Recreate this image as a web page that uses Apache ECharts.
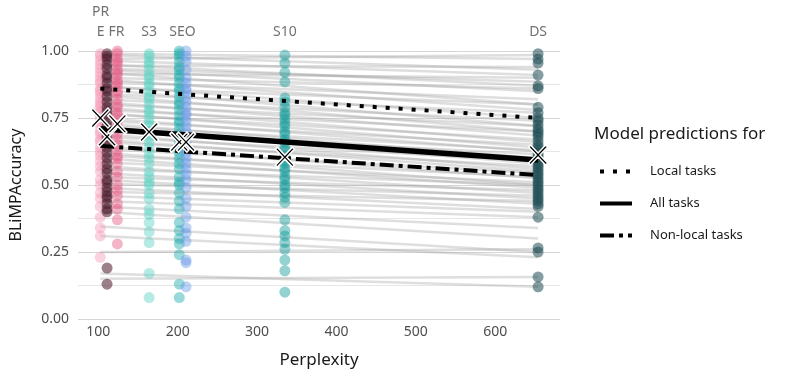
<!DOCTYPE html>
<html>
<head>
<meta charset="utf-8">
<script src="https://cdn.jsdelivr.net/npm/echarts@6/dist/echarts.min.js"></script>
<style>
  html, body { margin: 0; padding: 0; background: #fff; }
  #chart { width: 793px; height: 375px; }
</style>
</head>
<body>
<div id="chart"></div>
<script>
var fontName = 'Noto Sans';

// perplexity of each model (x position of the point columns)
var colX = [102.5, 111, 124, 164, 202, 210.5, 335, 654];
var colColors = ['#f49ab5', '#4a1a2c', '#e75c86', '#5cd2c3', '#1fabab', '#6a9ce8', '#109c99', '#1f4c53'];

// BLiMP accuracy per task, one list per model column
var prePink = [0.99, 0.98, 0.965, 0.95, 0.935, 0.92, 0.905, 0.89, 0.88, 0.86, 0.85, 0.84, 0.825, 0.81, 0.80, 0.79, 0.775, 0.77, 0.755, 0.74, 0.73, 0.72, 0.70, 0.69, 0.67, 0.66, 0.64, 0.625, 0.61, 0.59, 0.57, 0.55, 0.52, 0.50, 0.47, 0.45, 0.42, 0.38, 0.34, 0.31, 0.23];
var preDark = [0.99, 0.98, 0.97, 0.95, 0.935, 0.91, 0.90, 0.88, 0.86, 0.85, 0.83, 0.81, 0.79, 0.775, 0.76, 0.74, 0.72, 0.70, 0.68, 0.665, 0.64, 0.62, 0.60, 0.58, 0.56, 0.545, 0.52, 0.51, 0.49, 0.475, 0.46, 0.45, 0.43, 0.41, 0.40, 0.19, 0.13];
var frPink = [1.0, 0.99, 0.97, 0.96, 0.95, 0.93, 0.92, 0.91, 0.89, 0.88, 0.87, 0.85, 0.84, 0.82, 0.80, 0.79, 0.77, 0.76, 0.74, 0.72, 0.71, 0.69, 0.67, 0.65, 0.63, 0.61, 0.60, 0.58, 0.55, 0.53, 0.50, 0.48, 0.46, 0.43, 0.41, 0.37, 0.28];
var s3 = [0.99, 0.98, 0.96, 0.95, 0.93, 0.91, 0.90, 0.88, 0.87, 0.85, 0.83, 0.82, 0.80, 0.78, 0.77, 0.75, 0.73, 0.72, 0.70, 0.68, 0.66, 0.64, 0.62, 0.60, 0.58, 0.55, 0.53, 0.51, 0.50, 0.47, 0.45, 0.41, 0.39, 0.36, 0.325, 0.285, 0.17, 0.08];
var seoTeal = [1.0, 0.99, 0.98, 0.96, 0.94, 0.93, 0.91, 0.90, 0.88, 0.86, 0.85, 0.83, 0.81, 0.80, 0.78, 0.76, 0.74, 0.73, 0.71, 0.69, 0.68, 0.66, 0.64, 0.62, 0.60, 0.58, 0.56, 0.53, 0.51, 0.50, 0.47, 0.44, 0.41, 0.36, 0.33, 0.30, 0.28, 0.24, 0.13, 0.08];
var seoBlue = [1.0, 0.98, 0.96, 0.93, 0.90, 0.88, 0.86, 0.85, 0.83, 0.81, 0.79, 0.77, 0.76, 0.74, 0.72, 0.70, 0.68, 0.66, 0.64, 0.62, 0.60, 0.58, 0.56, 0.54, 0.52, 0.49, 0.45, 0.42, 0.38, 0.34, 0.32, 0.29, 0.22, 0.21, 0.12];
var s10 = [0.985, 0.955, 0.92, 0.885, 0.825, 0.81, 0.79, 0.77, 0.76, 0.745, 0.73, 0.72, 0.70, 0.69, 0.67, 0.66, 0.64, 0.63, 0.61, 0.60, 0.59, 0.58, 0.56, 0.55, 0.53, 0.52, 0.50, 0.49, 0.47, 0.455, 0.435, 0.37, 0.33, 0.31, 0.285, 0.26, 0.22, 0.18, 0.10];
var ds = [0.99, 0.97, 0.955, 0.91, 0.87, 0.86, 0.79, 0.77, 0.75, 0.74, 0.725, 0.71, 0.70, 0.69, 0.68, 0.665, 0.65, 0.64, 0.63, 0.62, 0.61, 0.60, 0.59, 0.58, 0.57, 0.56, 0.55, 0.54, 0.53, 0.52, 0.51, 0.50, 0.49, 0.48, 0.47, 0.46, 0.45, 0.44, 0.43, 0.42, 0.38, 0.265, 0.25, 0.157, 0.12];
var columns = [prePink, preDark, frPink, s3, seoTeal, seoBlue, s10, ds];

// mean accuracy per model (X markers)
var meanAcc = [0.75, 0.68, 0.728, 0.698, 0.66, 0.66, 0.604, 0.612];

// model names written above the columns
var modelNames = ['PR\nE', 'FR', 'S3', 'SEO', 'S10', 'DS'];
var modelNameX = [103, 123, 164, 206, 335, 654];

// per task fitted lines: accuracy at lowest and highest perplexity
var lineStart = [0.99, 0.985, 0.97, 0.965, 0.95, 0.945, 0.935, 0.93, 0.92, 0.915, 0.90, 0.895, 0.885, 0.87, 0.865, 0.855, 0.84, 0.835, 0.82, 0.81, 0.80, 0.79, 0.78, 0.77, 0.765, 0.75, 0.74, 0.73, 0.72, 0.71, 0.70, 0.69, 0.68, 0.67, 0.66, 0.645, 0.635, 0.62, 0.61, 0.60, 0.585, 0.57, 0.56, 0.545, 0.53, 0.52, 0.505, 0.49, 0.475, 0.46, 0.44, 0.42, 0.40, 0.345, 0.31, 0.25, 0.17, 0.15];
var lineEnd = [0.97, 0.93, 0.985, 0.91, 0.87, 0.94, 0.885, 0.85, 0.80, 0.90, 0.86, 0.78, 0.82, 0.75, 0.80, 0.72, 0.77, 0.70, 0.74, 0.685, 0.72, 0.66, 0.70, 0.64, 0.67, 0.625, 0.65, 0.60, 0.63, 0.58, 0.615, 0.56, 0.59, 0.55, 0.57, 0.525, 0.545, 0.50, 0.53, 0.49, 0.51, 0.47, 0.50, 0.45, 0.48, 0.43, 0.46, 0.41, 0.44, 0.40, 0.38, 0.34, 0.30, 0.25, 0.23, 0.26, 0.12, 0.157];
var lineX = [102.5, 654];

// model predictions (start, end)
var localPred = [0.86, 0.75];
var allPred = [0.71, 0.593];
var nonlocalPred = [0.646, 0.537];

var crossPath = 'path://M0,2L2,0L10,8L18,0L20,2L12,10L20,18L18,20L10,12L2,20L0,18L8,10Z';

var chart = document.getElementById('chart');
var myChart = echarts.init(chart, null, { renderer: 'canvas' });

var series = [];

var taskLines = [];
for (var i = 0; i < lineStart.length; i++) {
    taskLines.push({ coords: [[lineX[0], lineStart[i]], [lineX[1], lineEnd[i]]] });
}
series.push({
    type: 'lines',
    coordinateSystem: 'cartesian2d',
    silent: true,
    z: 1,
    lineStyle: { color: '#9a9a9a', width: 2.5, opacity: 0.33 },
    data: taskLines
});

columns.forEach(function (col, k) {
    series.push({
        type: 'scatter',
        silent: true,
        z: 2,
        symbolSize: 11,
        itemStyle: { color: colColors[k], opacity: k === 1 || k === 7 ? 0.55 : 0.45 },
        data: col.map(function (v) { return [colX[k], v]; })
    });
});

function predLine(name, vals, width, dash) {
    return {
        name: name,
        type: 'line',
        silent: true,
        z: 3,
        symbol: 'none',
        itemStyle: { color: '#000' },
        lineStyle: { color: '#000', width: width, type: dash },
        data: [[lineX[0], vals[0]], [lineX[1], vals[1]]]
    };
}
series.push(predLine('Local tasks', localPred, 4, [4, 9]));
series.push(predLine('All tasks', allPred, 5.5, 'solid'));
series.push(predLine('Non-local tasks', nonlocalPred, 4, [14, 5, 4, 5]));

series.push({
    type: 'scatter',
    silent: true,
    z: 4,
    symbol: crossPath,
    symbolSize: [19, 20],
    itemStyle: { color: '#000', opacity: 1, borderColor: '#fff', borderWidth: 1.5 },
    data: meanAcc.map(function (v, k) { return [colX[k], v]; })
});

series.push({
    type: 'scatter',
    silent: true,
    z: 5,
    symbolSize: 0,
    label: {
        show: true,
        position: 'top',
        distance: 9,
        color: '#4d4d4d',
        fontFamily: fontName,
        fontSize: 14,
        lineHeight: 20,
        formatter: function (p) { return p.value[2]; }
    },
    data: modelNames.map(function (n, k) { return [modelNameX[k], 1, n]; })
});

option = {
    animation: false,
    backgroundColor: '#fff',
    textStyle: { fontFamily: fontName },
    title: {
        text: 'Model predictions for',
        left: 589,
        top: 121,
        textStyle: { fontFamily: fontName, fontSize: 17, fontWeight: 'normal', color: '#1a1a1a' }
    },
    legend: {
        orient: 'vertical',
        left: 593,
        top: 160,
        itemWidth: 32,
        itemHeight: 14,
        itemGap: 19,
        data: ['Local tasks', 'All tasks', 'Non-local tasks'],
        itemStyle: { opacity: 0 },
        lineStyle: { width: 4 },
        textStyle: { fontFamily: fontName, fontSize: 13, color: '#1a1a1a', padding: [0, 0, 0, 13] }
    },
    grid: {
        left: 77,
        right: 233,
        top: 51,
        bottom: 56
    },
    xAxis: {
        type: 'value',
        min: 74.4,
        max: 681.6,
        name: 'Perplexity',
        nameLocation: 'middle',
        nameGap: 33,
        nameTextStyle: { fontFamily: fontName, fontSize: 17, color: '#1a1a1a' },
        axisLine: { show: false },
        axisTick: { show: false },
        splitLine: { show: false },
        axisLabel: {
            color: '#4d4d4d',
            fontSize: 14,
            margin: 6,
            showMinLabel: false,
            showMaxLabel: false,
            formatter: function (v) { return v % 100 === 0 ? String(v) : ''; }
        }
    },
    yAxis: {
        type: 'value',
        min: 0,
        max: 1,
        interval: 0.25,
        name: 'BLiMPAccuracy',
        nameLocation: 'middle',
        nameGap: 54,
        nameTextStyle: { fontFamily: fontName, fontSize: 16, color: '#1a1a1a' },
        axisLine: { show: false },
        axisTick: { show: false },
        axisLabel: {
            color: '#4d4d4d',
            fontSize: 14,
            margin: 9,
            formatter: function (v) { return v.toFixed(2); }
        },
        splitLine: { lineStyle: { color: '#d6d6d6', width: 1.2 } },
        minorTick: { show: false, splitNumber: 2 },
        minorSplitLine: { show: true, lineStyle: { color: '#e6e6e6', width: 1 } }
    },
    series: series
};

myChart.setOption(option);
</script>
</body>
</html>
